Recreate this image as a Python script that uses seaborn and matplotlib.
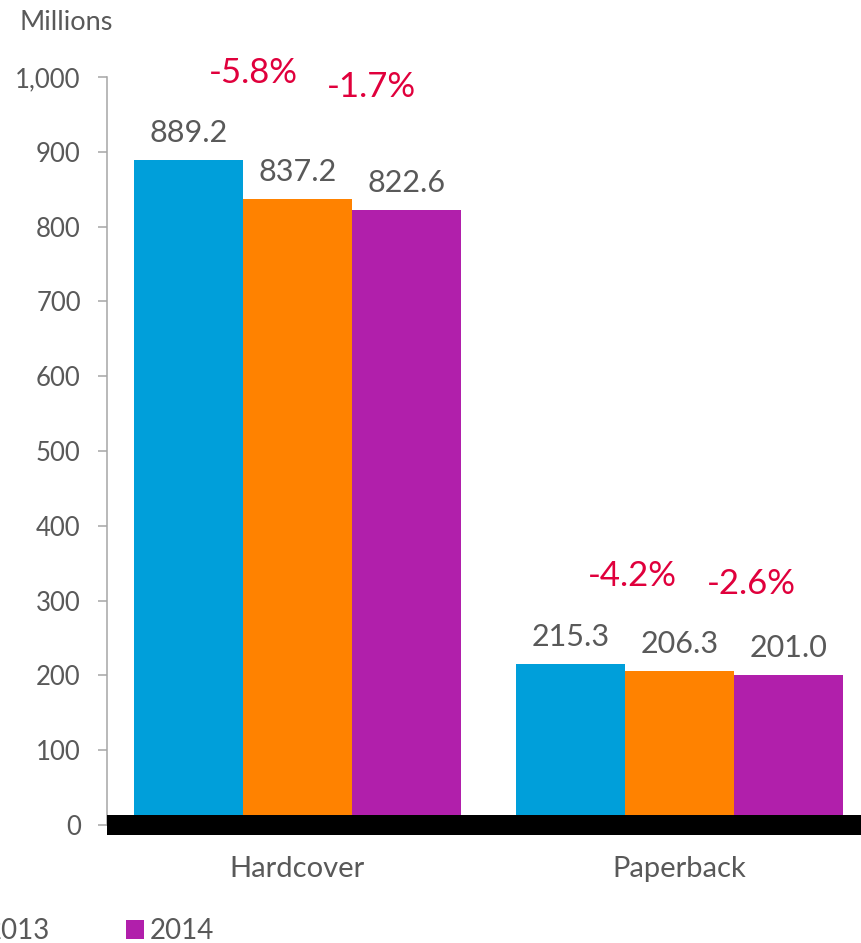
import pandas as pd
import matplotlib
matplotlib.use("Agg")
import matplotlib.pyplot as plt
import seaborn as sns
from matplotlib.patches import Patch

# data
categories = ["Hardcover", "Paperback"]
years = ["2012", "2013", "2014"]
hardcover = [889.2, 837.2, 822.6]
paperback = [215.3, 206.3, 201.0]
pct_hardcover = ["-5.8%", "-1.7%"]
pct_paperback = ["-4.2%", "-2.6%"]

colors = ["#009FDA", "#FF8200", "#B11FAB"]
grey = "#595959"
red = "#E0003C"

df = pd.DataFrame({
    "format": [c for c in categories for _ in years],
    "year": years * len(categories),
    "units": hardcover + paperback,
})

sns.set_style("white")
plt.rcParams["font.family"] = ["Lato", "DejaVu Sans"]

fig = plt.figure(figsize=(8.61, 9.43), dpi=100)
ax = fig.add_axes([106.5 / 861, 1 - 825 / 943, 764 / 861, 748 / 943])

sns.barplot(data=df, x="format", y="units", hue="year", hue_order=years,
            palette=colors, saturation=1, width=0.856, gap=0, linewidth=0,
            legend=False, errorbar=None, ax=ax)

ax.set_xlim(-0.5, 1.5)
ax.set_ylim(0, 1000)
ax.set_yticks(range(0, 1001, 100))
ax.set_yticklabels([f"{v:,}" for v in range(0, 1001, 100)])
ax.set_xlabel("")
ax.set_ylabel("")

for side in ["top", "right"]:
    ax.spines[side].set_visible(False)
ax.spines["left"].set_color("#A6A6A6")
ax.spines["left"].set_linewidth(1.1)
ax.spines["bottom"].set_color("black")
ax.spines["bottom"].set_linewidth(14.4)
ax.spines["bottom"].set_capstyle("butt")

ax.tick_params(axis="y", direction="out", length=6.5, width=1.1, color="#A6A6A6",
               labelsize=18.5, labelcolor=grey, pad=12, left=True)
ax.tick_params(axis="x", length=0, labelsize=21, labelcolor=grey, pad=22)

for cont in ax.containers:
    ax.bar_label(cont, fmt="%.1f", padding=9, fontsize=22, color=grey)

# percentage changes, placed just right of the boundary between bars
pct_pos = [(-0.115, 1006), (0.194, 986), (0.877, 333), (1.187, 322)]
for txt, (x, y) in zip(pct_hardcover + pct_paperback, pct_pos):
    ax.text(x, y, txt, ha="center", va="center", fontsize=25, color=red,
            clip_on=False)

fig.text(20 / 861, 1 - 22 / 943, "Millions", ha="left", va="center",
         fontsize=19.5, color=grey)

handles = [Patch(facecolor=c, edgecolor="none", label=y) for c, y in zip(colors, years)]
fig.legend(handles=handles, loc="center", bbox_to_anchor=(5.75 / 861, 12 / 943),
           ncol=3, frameon=False, fontsize=20, labelcolor=grey,
           handlelength=0.65, handleheight=0.65, handletextpad=0.22,
           columnspacing=2.73, borderpad=0)

fig.savefig("out.png", dpi=100)
